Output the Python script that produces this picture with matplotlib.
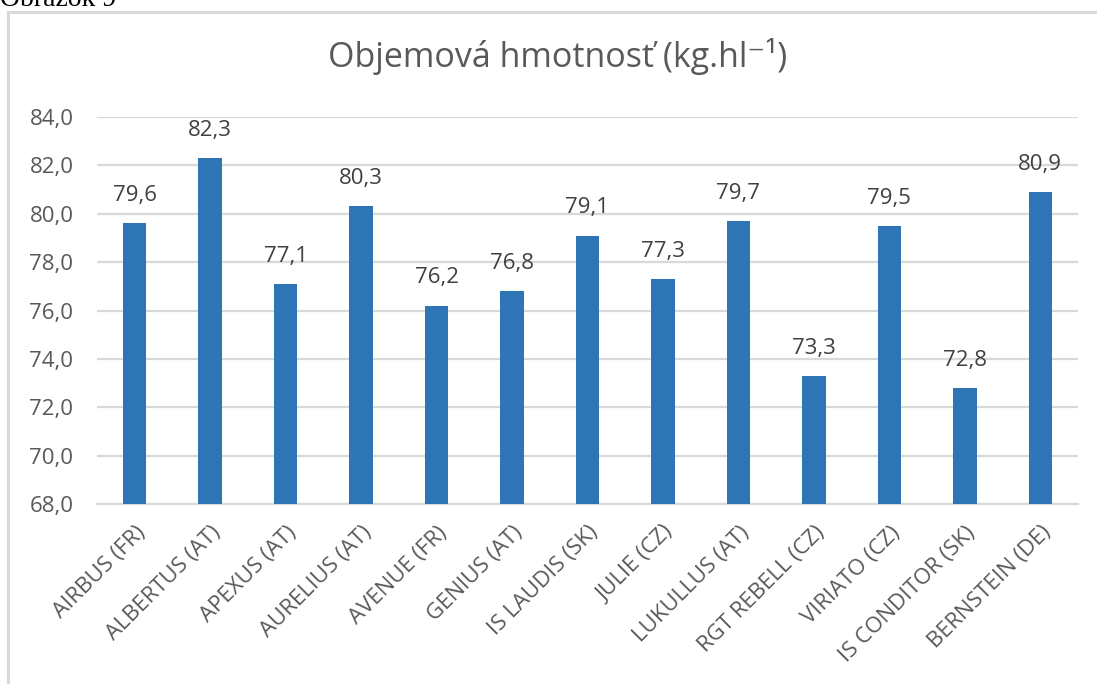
import numpy as np
import matplotlib.pyplot as plt
from matplotlib.patches import Rectangle

odrody = ['AIRBUS (FR)', 'ALBERTUS (AT)', 'APEXUS (AT)', 'AURELIUS (AT)',
          'AVENUE (FR)', 'GENIUS (AT)', 'IS LAUDIS (SK)', 'JULIE (CZ)',
          'LUKULLUS (AT)', 'RGT REBELL (CZ)', 'VIRIATO (CZ)',
          'IS CONDITOR (SK)', 'BERNSTEIN (DE)']
hmotnost = [79.6, 82.3, 77.1, 80.3, 76.2, 76.8, 79.1, 77.3, 79.7, 73.3,
            79.5, 72.8, 80.9]
y_ticks = np.arange(68, 84.1, 2)

plt.rcParams['font.family'] = ['Open Sans', 'DejaVu Sans']

fig = plt.figure(figsize=(10.97, 6.84), dpi=100)
# ramik grafu
fig.patches.append(Rectangle((8 / 1097, -0.05), 1.1, 1 - 12 / 684 + 0.05,
                             transform=fig.transFigure, fill=False,
                             edgecolor='#D9D9D9', linewidth=2.2))
fig.text(0.0, 1.0, 'Obrázok 9', family='Liberation Serif', fontsize=20,
         color='black', va='center', ha='left')

ax = fig.add_axes([97 / 1097, 1 - 504 / 684, (1078 - 97) / 1097, (504 - 117) / 684])
x = np.arange(len(odrody))
bars = ax.bar(x, hmotnost, width=0.31, color='#2E75B6', zorder=3)
for xi, v in zip(x, hmotnost):
    ax.annotate(f'{v:.1f}'.replace('.', ','), (xi, v), xytext=(0, 16),
                textcoords='offset points', ha='center', va='baseline',
                fontsize=16, color='#404040')

ax.set_ylim(68, 84)
ax.set_xlim(-0.5, len(odrody) - 0.5)
ax.set_yticks(y_ticks)
ax.set_yticklabels([f'{t:.1f}'.replace('.', ',') for t in y_ticks])
ax.set_xticks(x)
ax.set_xticklabels(odrody, rotation=45, ha='right', rotation_mode='anchor')
ax.tick_params(axis='both', length=0, labelsize=16, labelcolor='#595959')
ax.tick_params(axis='y', pad=17)
ax.tick_params(axis='x', pad=13)
ax.grid(axis='y', color='#D9D9D9', linewidth=1.6, zorder=0)
for s in ['top', 'right', 'left']:
    ax.spines[s].set_visible(False)
ax.spines['bottom'].set_color('#D9D9D9')
ax.spines['bottom'].set_linewidth(1.6)

# nadpis je centrovany na cely graf, nie na plochu grafu
ax.set_title('Objemová hmotnosť (kg.hl⁻¹)', fontsize=24.5, color='#595959',
             pad=36, x=0.47)

fig.savefig('out.png', dpi=100)
